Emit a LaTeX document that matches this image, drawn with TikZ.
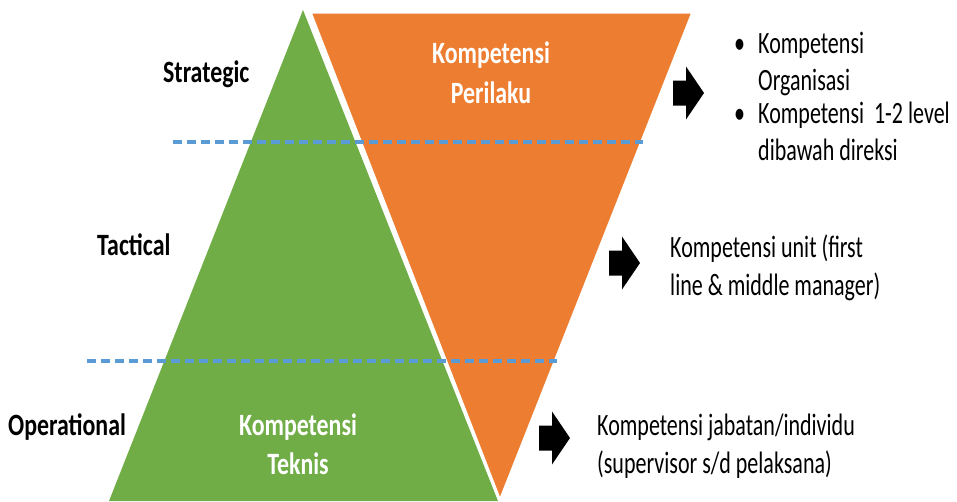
\documentclass[tikz,border=0pt]{standalone}
\usepackage{fontspec}
\setmainfont{Carlito}[FakeStretch=0.71,BoldFeatures={FakeStretch=0.77}]
\definecolor{teknis}{HTML}{70AD47}
\definecolor{perilaku}{HTML}{ED7D31}
\definecolor{garis}{HTML}{5B9BD5}
\tikzset{
  blockarrow/.pic={\fill[black] (0,-12.5) -- (13,-12.5) -- (13,-26.5) -- (31,0)
    -- (13,26.5) -- (13,12.5) -- (0,12.5) -- cycle;}
}
\begin{document}
\begin{tikzpicture}
[x=1pt,y=-1pt,%
  every node/.style={inner sep=0pt,anchor=base west},%
  level/.style={font=\bfseries},%
  inside/.style={font=\bfseries,text=white,align=center,anchor=base},%
  txt/.style={align=left},%
  levelline/.style={garis,line width=3.5pt,dash pattern=on 9pt off 5pt}]
\fontsize{31}{38}\selectfont
\useasboundingbox (0,0) rectangle (957,501);
% triangles
\fill[teknis] (303,10) -- (498,501) -- (109,501) -- cycle;
\filldraw[fill=perilaku,draw=white,line width=3pt] (310,12) -- (693,12) -- (500,501) -- cycle;
% levels
\draw[levelline] (173,142) -- (643,142);
\draw[levelline] (87,361) -- (557,361);
\node[level] (strategic) at (163,82) {Strategic};
\node[level] (tactical) at (97,255) {Tactical};
\node[level] (operational) at (8,435) {Operational};
% inside the triangles (base = last line)
\node[inside] (perilaku) at (491,103) {Kompetensi\\[2pt]Perilaku};
\node[inside] (teknis) at (298,474) {Kompetensi\\[1pt]Teknis};
% arrows
\pic at (673,93) {blockarrow};
\pic at (609,263) {blockarrow};
\pic at (539,438) {blockarrow};
% descriptions
\node (bul1) at (734,53) {\textbullet};
\node[txt] (org) at (758,90) {Kompetensi\\[-1pt]Organisasi};
\node (bul2) at (734,123) {\textbullet};
\node[txt] (direksi) at (758,160) {Kompetensi~ 1-2 level\\[-1pt]dibawah direksi};
\node[txt] (unit) at (670,295) {Kompetensi unit (first\\line \& middle manager)};
\node[txt] (jabatan) at (597,473) {Kompetensi jabatan/individu\\(supervisor s/d pelaksana)};
\end{tikzpicture}
\end{document}
